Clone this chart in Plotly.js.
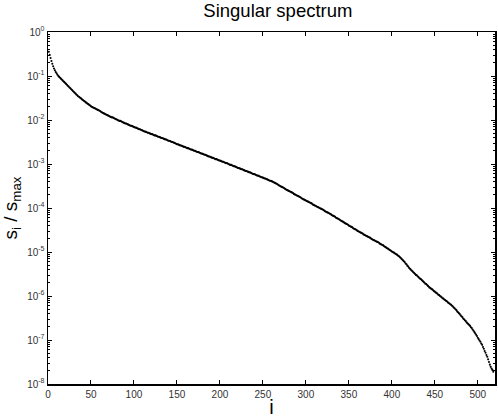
<!DOCTYPE html>
<html>
<head>
<meta charset="utf-8">
<script src="https://cdn.plot.ly/plotly-3.0.1.min.js"></script>
<style>html,body{margin:0;padding:0;background:#fff;}#chart{width:498px;height:418px;}</style>
</head>
<body>
<div id="chart"></div>
<script>
// log10 of s_i / s_max, for i = 1 .. 518
const log10Ratio = [
-0.45,-0.52,-0.59,-0.66,-0.72,-0.78,-0.83,-0.87,-0.91,-0.94,
-0.97,-1.00,-1.02,-1.04,-1.06,-1.08,-1.10,-1.12,-1.14,-1.16,
-1.18,-1.20,-1.22,-1.24,-1.26,-1.28,-1.30,-1.32,-1.34,-1.36,
-1.38,-1.40,-1.42,-1.44,-1.46,-1.47,-1.49,-1.50,-1.52,-1.54,
-1.55,-1.57,-1.58,-1.60,-1.61,-1.63,-1.64,-1.66,-1.67,-1.69,
-1.70,-1.71,-1.72,-1.73,-1.74,-1.75,-1.76,-1.77,-1.78,-1.79,
-1.80,-1.82,-1.83,-1.84,-1.85,-1.86,-1.87,-1.88,-1.89,-1.90,
-1.91,-1.92,-1.93,-1.94,-1.94,-1.95,-1.96,-1.97,-1.98,-1.99,
-2.00,-2.01,-2.02,-2.02,-2.03,-2.04,-2.05,-2.06,-2.07,-2.08,
-2.08,-2.09,-2.10,-2.11,-2.12,-2.13,-2.13,-2.14,-2.15,-2.16,
-2.17,-2.17,-2.18,-2.19,-2.20,-2.21,-2.21,-2.22,-2.23,-2.24,
-2.25,-2.26,-2.26,-2.27,-2.28,-2.29,-2.29,-2.30,-2.31,-2.32,
-2.32,-2.33,-2.34,-2.35,-2.35,-2.36,-2.37,-2.38,-2.38,-2.39,
-2.40,-2.41,-2.41,-2.42,-2.43,-2.44,-2.44,-2.45,-2.46,-2.47,
-2.47,-2.48,-2.49,-2.50,-2.50,-2.51,-2.52,-2.53,-2.54,-2.55,
-2.55,-2.56,-2.57,-2.58,-2.58,-2.59,-2.60,-2.61,-2.61,-2.62,
-2.63,-2.64,-2.64,-2.65,-2.66,-2.67,-2.67,-2.68,-2.69,-2.70,
-2.70,-2.71,-2.72,-2.73,-2.73,-2.74,-2.75,-2.76,-2.76,-2.77,
-2.78,-2.79,-2.79,-2.80,-2.81,-2.82,-2.83,-2.83,-2.84,-2.85,
-2.86,-2.86,-2.87,-2.88,-2.89,-2.89,-2.90,-2.91,-2.92,-2.92,
-2.93,-2.94,-2.95,-2.95,-2.96,-2.97,-2.98,-2.98,-2.99,-3.00,
-3.01,-3.02,-3.02,-3.03,-3.04,-3.05,-3.05,-3.06,-3.07,-3.08,
-3.09,-3.09,-3.10,-3.11,-3.12,-3.12,-3.13,-3.14,-3.15,-3.16,
-3.16,-3.17,-3.18,-3.19,-3.19,-3.20,-3.21,-3.22,-3.23,-3.23,
-3.24,-3.25,-3.26,-3.26,-3.27,-3.28,-3.29,-3.30,-3.30,-3.31,
-3.32,-3.33,-3.33,-3.34,-3.35,-3.36,-3.37,-3.38,-3.38,-3.39,
-3.40,-3.41,-3.42,-3.43,-3.44,-3.45,-3.46,-3.48,-3.49,-3.50,
-3.51,-3.52,-3.53,-3.54,-3.55,-3.57,-3.58,-3.59,-3.60,-3.61,
-3.62,-3.63,-3.64,-3.65,-3.66,-3.68,-3.69,-3.70,-3.71,-3.72,
-3.73,-3.74,-3.75,-3.76,-3.78,-3.79,-3.80,-3.81,-3.82,-3.83,
-3.84,-3.85,-3.86,-3.87,-3.88,-3.89,-3.90,-3.92,-3.93,-3.94,
-3.95,-3.96,-3.97,-3.98,-3.99,-4.00,-4.01,-4.02,-4.03,-4.04,
-4.05,-4.07,-4.08,-4.09,-4.10,-4.11,-4.12,-4.13,-4.14,-4.16,
-4.17,-4.18,-4.19,-4.20,-4.22,-4.23,-4.24,-4.25,-4.26,-4.28,
-4.29,-4.30,-4.31,-4.32,-4.34,-4.35,-4.36,-4.37,-4.38,-4.40,
-4.41,-4.42,-4.43,-4.44,-4.46,-4.47,-4.48,-4.49,-4.50,-4.52,
-4.53,-4.54,-4.55,-4.56,-4.57,-4.58,-4.60,-4.61,-4.62,-4.63,
-4.64,-4.65,-4.66,-4.67,-4.68,-4.70,-4.71,-4.72,-4.73,-4.74,
-4.75,-4.76,-4.77,-4.78,-4.79,-4.81,-4.82,-4.83,-4.84,-4.85,
-4.87,-4.88,-4.89,-4.91,-4.92,-4.93,-4.95,-4.96,-4.97,-4.99,
-5.00,-5.01,-5.02,-5.04,-5.05,-5.06,-5.08,-5.09,-5.11,-5.13,
-5.15,-5.17,-5.19,-5.21,-5.23,-5.26,-5.28,-5.31,-5.33,-5.36,
-5.38,-5.40,-5.42,-5.44,-5.46,-5.48,-5.50,-5.52,-5.53,-5.55,
-5.57,-5.59,-5.61,-5.62,-5.64,-5.66,-5.68,-5.70,-5.72,-5.73,
-5.75,-5.77,-5.79,-5.81,-5.82,-5.84,-5.85,-5.87,-5.89,-5.90,
-5.92,-5.93,-5.95,-5.97,-5.98,-6.00,-6.01,-6.03,-6.05,-6.06,
-6.08,-6.09,-6.11,-6.12,-6.14,-6.16,-6.17,-6.19,-6.20,-6.22,
-6.24,-6.26,-6.28,-6.30,-6.32,-6.35,-6.37,-6.39,-6.41,-6.44,
-6.46,-6.48,-6.51,-6.53,-6.55,-6.57,-6.60,-6.62,-6.64,-6.66,
-6.68,-6.71,-6.73,-6.76,-6.79,-6.82,-6.85,-6.88,-6.91,-6.95,
-6.98,-7.01,-7.04,-7.08,-7.11,-7.16,-7.20,-7.25,-7.29,-7.34,
-7.38,-7.44,-7.50,-7.56,-7.61,-7.65,-7.68,-7.72
];
const indices = log10Ratio.map((_, k) => k + 1);
const ratio = log10Ratio.map(v => Math.pow(10, v));

const titleText = "Singular spectrum";
const xTitle = "i";
const yTitle = "s<sub>i</sub> / s<sub>max</sub>";
const xTicks = [0, 50, 100, 150, 200, 250, 300, 350, 400, 450, 500];
const yTicks = [1e-8, 1e-7, 1e-6, 1e-5, 1e-4, 1e-3, 1e-2, 1e-1, 1e0];
const yTickText = ["-8","-7","-6","-5","-4","-3","-2","-1","0"].map(e => "10<sup>" + e + "</sup>");

const trace = {
  x: indices, y: ratio, type: "scatter", mode: "markers",
  marker: {color: "#000", size: 2.1, line: {width: 0}},
  hoverinfo: "skip"
};

const font = "Liberation Sans, Arial, sans-serif";
const layout = {
  width: 498, height: 418,
  margin: {l: 48, r: 3, t: 32, b: 34},
  paper_bgcolor: "#fff", plot_bgcolor: "#fff",
  showlegend: false,
  font: {family: font, color: "#000"},
  title: {text: titleText, font: {size: 18.5, family: font, color: "#000"}, x: 0.558, xanchor: "center", y: 0.99, yanchor: "top"},
  xaxis: {
    range: [0, 520], tickvals: xTicks, ticktext: xTicks.map(String),
    ticks: "inside", ticklen: 4, tickwidth: 1, tickcolor: "#000",
    showline: true, linecolor: "#000", linewidth: 1.5, mirror: "allticks",
    showgrid: false, zeroline: false,
    tickfont: {size: 10, color: "#333", family: font},
    title: {text: xTitle, font: {size: 20, family: font, color: "#000"}, standoff: 4}
  },
  yaxis: {
    type: "log", range: [-8, 0], tickvals: yTicks, ticktext: yTickText,
    ticks: "inside", ticklen: 4, tickwidth: 1, tickcolor: "#000",
    minor: {ticks: "inside", ticklen: 2, tickcolor: "#000", dtick: "D1", showgrid: false},
    showline: true, linecolor: "#000", linewidth: 1.5, mirror: "allticks",
    showgrid: false, zeroline: false,
    tickfont: {size: 10, color: "#333", family: font},
    title: {text: yTitle, font: {size: 19, family: font, color: "#000"}, standoff: 4}
  }
};

Plotly.newPlot("chart", [trace], layout, {staticPlot: true, displayModeBar: false});
</script>
</body>
</html>
